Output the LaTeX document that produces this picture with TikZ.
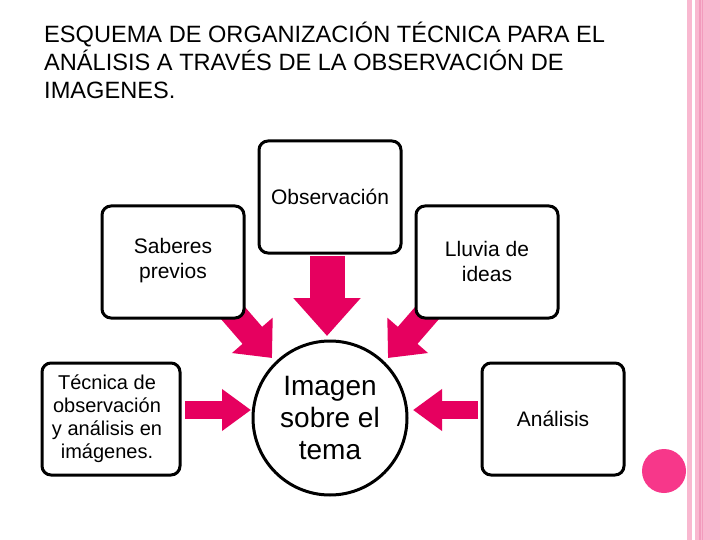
\documentclass[tikz,border=0pt]{standalone}
\usepackage{fontspec}
\setmainfont{Liberation Sans}
\usetikzlibrary{arrows.meta}
\definecolor{pk}{HTML}{E6005F}
\definecolor{stripe}{HTML}{F9B8D0}
\definecolor{stripe2}{HTML}{F29BBD}
\definecolor{dot}{HTML}{F7378A}
\begin{document}
\begin{tikzpicture}[x=1pt,y=-1pt,
  box/.style={draw,fill=white,line width=3pt,rounded corners=9pt,minimum width=142pt,minimum height=112pt},
  lbl/.style={align=center,font=\fontsize{21}{25}\selectfont},
  fat/.style={pk,line width=#1},
  ]
\useasboundingbox[fill=white] (0,0) rectangle (720,540);
\fill[stripe] (687,0) rectangle (692,540);
\fill[stripe] (695,0) rectangle (720,540);
\fill[stripe2] (699,0) rectangle (700.5,540);
\fill[stripe2] (702,0) rectangle (703,540);
\fill[dot] (664,471) circle (22);
\node[anchor=north west,align=left,font=\fontsize{23.6}{28}\selectfont,inner sep=0] (title) at (44,22)
 {ESQUEMA DE ORGANIZACIÓN TÉCNICA PARA EL\\ANÁLISIS A TRAVÉS DE LA OBSERVACIÓN DE\\IMAGENES.};
\coordinate (dtop) at (327,256);
\coordinate (dtip) at (327,336);
\draw[fat=35pt,-{Triangle[width=65pt,length=38pt]}] (dtop) -- (dtip);
\coordinate (lt) at (185,410);
\coordinate (ltip) at (251,410);
\draw[fat=18pt,-{Triangle[width=40pt,length=29pt]}] (lt) -- (ltip);
\coordinate (rt) at (478,410);
\coordinate (rtip) at (413,410);
\draw[fat=18pt,-{Triangle[width=40pt,length=29pt]}] (rt) -- (rtip);
\coordinate (ds) at (226,305);
\coordinate (dst) at (272,358);
\draw[fat=26pt,-{Triangle[width=52pt,length=30pt]}] (ds) -- (dst);
\coordinate (dr) at (434,305);
\coordinate (drt) at (388,358);
\draw[fat=26pt,-{Triangle[width=52pt,length=30pt]}] (dr) -- (drt);
\node[box] (obs) at (330,197) {};
\node[lbl] (obst) at (330,197) {Observación};
\node[box] (sab) at (173,262) {};
\node[lbl] (sabt) at (173,261) {Saberes\\previos};
\node[box] (llu) at (487,262) {};
\node[lbl] (llut) at (487,261) {Lluvia de\\ideas};
\node[box,minimum width=138pt] (tec) at (111,419) {};
\node[lbl,font=\fontsize{20}{23}\selectfont] (tect) at (107,419) {Técnica de\\observación\\y análisis en\\imágenes.};
\node[box] (ana) at (553,419) {};
\node[lbl] (anat) at (553,419) {Análisis};
\node[circle,draw,fill=white,line width=3pt,minimum size=154pt,align=center,font=\fontsize{28}{32}\selectfont] (img) at (330,418) {Imagen\\sobre el\\tema};
\end{tikzpicture}
\end{document}
